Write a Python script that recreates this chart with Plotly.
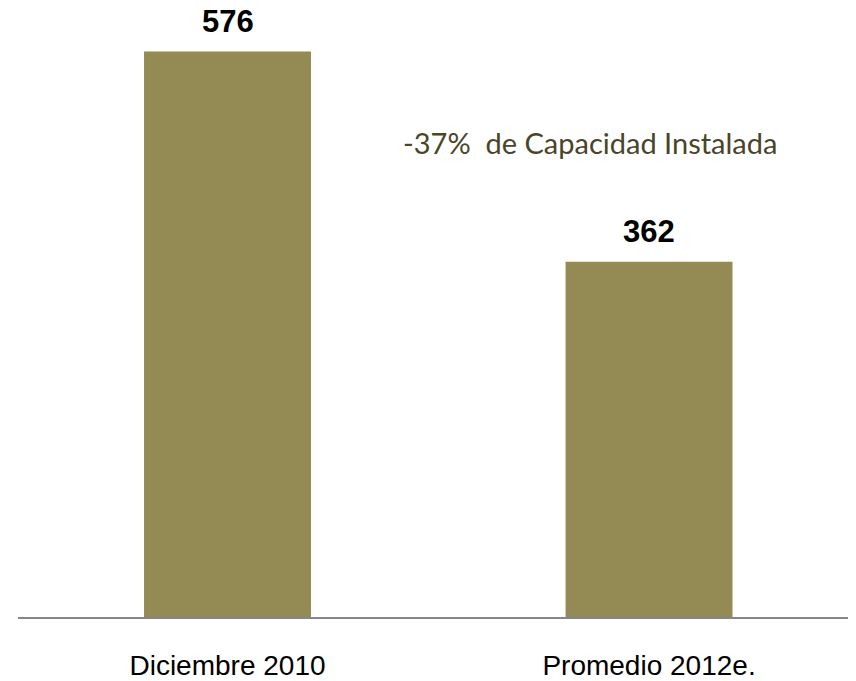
import plotly.graph_objects as go

categories = ["Diciembre 2010", "Promedio 2012e."]
values = [576, 362]
value_labels = ["576", "362"]
note_text = "-37%  de Capacidad Instalada"

fig = go.Figure()
fig.add_trace(go.Bar(
    x=categories, y=values,
    marker=dict(color="#948A54", line=dict(width=0)),
    width=0.396,
    hoverinfo="skip",
))

for c, v, t in zip(categories, values, value_labels):
    fig.add_annotation(
        x=c, y=v, text="<b>" + t + "</b>", showarrow=False,
        yanchor="bottom", yshift=11,
        font=dict(family="Liberation Sans, Arial, sans-serif", size=31, color="#000000"),
    )

fig.add_annotation(
    xref="paper", yref="paper", x=0.683, y=0.779,
    text=note_text, showarrow=False, xanchor="center", yanchor="middle",
    font=dict(family="Lato, sans-serif", size=29, color="#4A4529"),
)

fig.update_layout(
    width=848, height=673,
    margin=dict(l=10, r=0, t=0, b=58),
    paper_bgcolor="white", plot_bgcolor="white",
    showlegend=False,
    xaxis=dict(
        type="category", range=[-0.497, 1.491],
        showline=True, linecolor="#868686", linewidth=2,
        showgrid=False, zeroline=False, ticks="",
        ticklabelstandoff=22,
        tickfont=dict(family="Liberation Sans, Arial, sans-serif", size=28, color="#000000"),
    ),
    yaxis=dict(
        range=[0, 620.4], visible=False, showgrid=False, zeroline=False,
    ),
)

fig.write_html("out.html")
